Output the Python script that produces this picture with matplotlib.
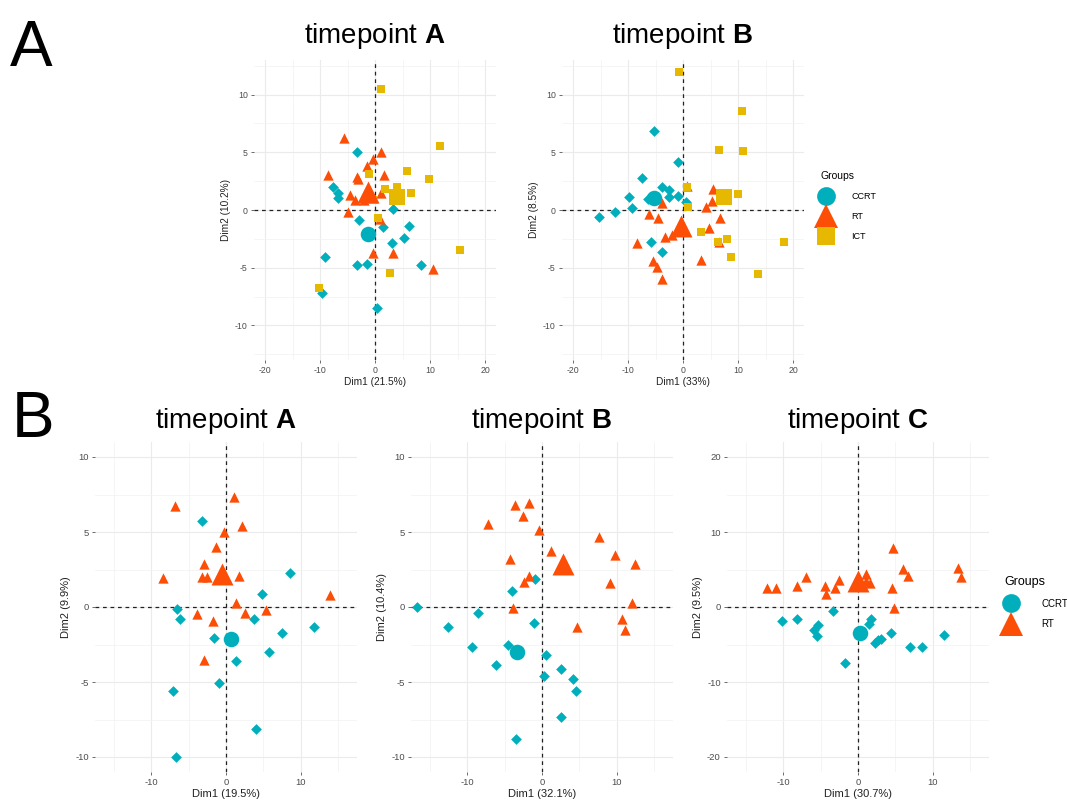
import numpy as np
import matplotlib
matplotlib.use('Agg')
import matplotlib.pyplot as plt
from matplotlib.lines import Line2D

plt.rcParams['font.family'] = ['Liberation Sans', 'DejaVu Sans']
plt.rcParams['mathtext.fontset'] = 'custom'
plt.rcParams['mathtext.rm'] = 'Liberation Sans'
plt.rcParams['mathtext.bf'] = 'Liberation Sans:bold'
plt.rcParams['axes.unicode_minus'] = False

# colours of the three groups
colCCRT = '#00AFBB'
colRT = '#FC4E07'
colICT = '#E7B800'

groupNames = ['CCRT', 'RT', 'ICT']

# ---- panel A, timepoint A ----
a1CcrtX = [-3.35, -7.6, -6.7, -6.7, 3.2, -2.9, 1.5, 6.1, 5.2, 3.0, -9.1, -3.35, -1.5, 8.4, -9.6, 0.3]
a1CcrtY = [5.06, 2.0, 1.45, 1.0, 0.05, -0.87, -1.45, -1.4, -2.4, -2.9, -4.1, -4.77, -4.7, -4.77, -7.2, -8.5]
a1RtX = [-5.7, 1.0, -0.4, -1.4, -8.5, -3.35, -3.05, 1.65, -4.6, -3.7, -2.0, -0.3, 1.1, -5.0, 0.9, -0.3, 3.2, 10.5]
a1RtY = [6.2, 5.05, 4.4, 3.85, 3.0, 2.9, 2.7, 3.0, 1.3, 0.87, 0.87, 1.0, 1.5, -0.14, -0.8, -3.7, -3.7, -5.1]
a1IctX = [11.8, 1.1, -1.1, 5.9, 9.9, 6.6, 1.8, 4.0, -0.4, 0.5, 15.4, 2.7, -10.1]
a1IctY = [5.55, 10.5, 3.1, 3.4, 2.7, 1.45, 1.8, 1.97, 0.87, -0.72, -3.5, -5.5, -6.8]
a1CentX = [-1.35, -1.2, 4.0]
a1CentY = [-2.1, 1.6, 1.16]

# ---- panel A, timepoint B ----
a2CcrtX = [-5.3, -1.0, -7.4, -3.9, -2.5, -2.5, -1.0, -9.9, -9.2, -12.3, -15.3, -6.4, 0.6, -5.9, -3.8]
a2CcrtY = [6.83, 4.18, 2.74, 2.0, 1.73, 1.15, 1.24, 1.15, 0.14, -0.14, -0.58, 0.92, 0.72, -2.8, -3.66]
a2RtX = [0.8, 5.45, 5.3, 4.2, -3.8, -6.1, -4.5, 6.7, 4.7, -3.3, -2.0, -8.4, 6.5, 3.3, -5.45, -4.7, -3.8]
a2RtY = [2.07, 1.79, 0.78, 0.29, 0.63, -0.37, -0.72, -0.72, -1.59, -2.3, -2.16, -2.82, -2.74, -4.32, -4.38, -4.96, -6.0]
a2IctX = [-0.7, 10.7, 6.5, 10.9, 0.8, 10.0, 0.9, 3.3, 6.4, 8.0, 18.4, 8.8, 13.6]
a2IctY = [12.0, 8.56, 5.19, 5.1, 2.0, 1.35, 0.29, -1.87, -2.8, -2.54, -2.74, -4.03, -5.56]
a2CentX = [-5.3, -0.3, 7.45]
a2CentY = [1.07, -1.35, 1.15]

# ---- panel B, timepoint A ----
b1CcrtX = [-3.2, 8.5, 4.8, -6.55, -6.1, 3.8, -1.65, 7.5, 11.8, 5.7, 1.34, -1.0, -7.1, 4.05, -6.7]
b1CcrtY = [5.71, 2.28, 0.89, -0.16, -0.78, -0.82, -2.04, -1.7, -1.33, -2.99, -3.63, -5.07, -5.58, -8.13, -10.0]
b1RtX = [-6.86, 1.1, 2.1, -0.3, -1.3, -2.9, -8.46, -3.2, -2.5, 1.7, 13.9, 1.4, 5.3, 2.6, -3.9, -1.74, -2.9]
b1RtY = [6.71, 7.33, 5.38, 4.98, 3.99, 2.88, 1.95, 1.99, 1.99, 2.06, 0.78, 0.29, -0.2, -0.38, -0.49, -0.93, -3.5]
b1CentX = [0.67, -0.5]
b1CentY = [-2.15, 2.17]

# ---- panel B, timepoint B ----
b2CcrtX = [-1.0, -4.0, -16.7, -8.5, -12.5, -1.1, -9.4, -4.5, -6.2, 0.54, 2.6, 0.3, 4.2, 4.6, 2.6, -3.46]
b2CcrtY = [1.84, 1.06, 0.02, -0.38, -1.31, -1.09, -2.66, -2.55, -3.85, -3.21, -4.1, -4.63, -4.81, -5.58, -7.35, -8.79]
b2RtX = [-3.6, -1.7, -2.56, -7.2, -0.45, 1.2, -4.27, 7.64, 9.8, 12.45, 9.08, -1.8, -2.34, -3.9, 12.0, 10.65, 11.1, 4.7]
b2RtY = [6.78, 6.93, 6.09, 5.56, 5.12, 3.72, 3.23, 4.67, 3.46, 2.88, 1.57, 2.04, 1.66, -0.04, 0.24, -0.82, -1.55, -1.33]
b2CentX = [-3.3, 2.8]
b2CentY = [-2.97, 2.88]

# ---- panel B, timepoint C ----
b3CcrtX = [-3.36, -10.2, -8.2, -5.4, -5.9, -5.5, 1.8, 1.43, 4.4, 3.1, 2.24, 2.7, 6.9, 8.6, 11.5, -1.8]
b3CcrtY = [-0.53, -1.86, -1.64, -2.44, -3.06, -3.85, -1.64, -2.21, -3.41, -4.2, -4.74, -4.43, -5.3, -5.3, -3.72, -7.49]
b3RtX = [-12.2, -10.9, -8.1, -7.0, -4.4, -4.25, -3.04, -2.5, 1.07, 1.1, 1.66, 4.65, 6.04, 6.7, 4.56, 4.8, 13.4, 13.7]
b3RtY = [2.57, 2.57, 2.79, 3.99, 2.79, 1.68, 2.57, 3.59, 4.43, 3.46, 3.23, 7.88, 5.09, 4.12, 2.48, -0.09, 5.23, 3.99]
b3CentX = [0.22, 0.0]
b3CentY = [-3.5, 3.46]

W, H = 1067, 802
fig = plt.figure(figsize=(W / 100, H / 100), dpi=100)


def px_axes(left, top, right, bottom):
    # axes from pixel box
    return fig.add_axes([left / W, 1 - bottom / H, (right - left) / W, (bottom - top) / H])


def style_axes(ax, xlim, ylim, xmaj, ymaj, xmin, ymin, xlab, ylab, fs, tfs):
    ax.set_xlim(xlim)
    ax.set_ylim(ylim)
    ax.set_xticks(xmaj)
    ax.set_yticks(ymaj)
    ax.set_xticks(xmin, minor=True)
    ax.set_yticks(ymin, minor=True)
    ax.grid(True, which='major', color='#EBEBEB', linewidth=0.8)
    ax.grid(True, which='minor', color='#F2F2F2', linewidth=0.5)
    ax.set_axisbelow(True)
    for s in ax.spines.values():
        s.set_visible(False)
    ax.tick_params(which='major', length=2.5, width=0.6, color='#555555',
                   labelcolor='#4D4D4D', labelsize=tfs, pad=2)
    ax.tick_params(which='minor', length=0)
    ax.axhline(0, color='#222222', linestyle=(0, (3, 3)), linewidth=0.9, zorder=1)
    ax.axvline(0, color='#222222', linestyle=(0, (3, 3)), linewidth=0.9, zorder=1)
    ax.set_xlabel(xlab, fontsize=fs, labelpad=1, color='#222222')
    ax.set_ylabel(ylab, fontsize=fs, labelpad=3, color='#222222')


def draw_points(ax, groups, centX, centY):
    marks = {'CCRT': ('D', colCCRT, 30, 125), 'RT': ('^', colRT, 55, 250), 'ICT': ('s', colICT, 36, 135)}
    for name, gx, gy in groups:
        m, c, s, _ = marks[name]
        ax.scatter(gx, gy, marker=m, s=s, color=c, linewidths=0, zorder=3)
    for i, (name, gx, gy) in enumerate(groups):
        m, c, _, big = marks[name]
        if m == 'D':
            m = 'o'
        ax.scatter([centX[i]], [centY[i]], marker=m, s=big, color=c, linewidths=0, zorder=4)


def title(ax, letter, pad):
    ax.set_title(r'timepoint $\mathbf{' + letter + '}$', fontsize=20, pad=pad)


# panel A
axA1 = px_axes(254, 60, 496, 360)
style_axes(axA1, (-22, 22), (-13, 13), [-20, -10, 0, 10, 20], [-10, -5, 0, 5, 10],
           [-15, -5, 5, 15], [-12.5, -7.5, -2.5, 2.5, 7.5, 12.5], 'Dim1 (21.5%)', 'Dim2 (10.2%)', 7.3, 6.3)
draw_points(axA1, [('CCRT', a1CcrtX, a1CcrtY), ('RT', a1RtX, a1RtY), ('ICT', a1IctX, a1IctY)], a1CentX, a1CentY)
title(axA1, 'A', 12)

axA2 = px_axes(562, 60, 804, 360)
style_axes(axA2, (-22, 22), (-13, 13), [-20, -10, 0, 10, 20], [-10, -5, 0, 5, 10],
           [-15, -5, 5, 15], [-12.5, -7.5, -2.5, 2.5, 7.5, 12.5], 'Dim1 (33%)', 'Dim2 (8.5%)', 7.3, 6.3)
draw_points(axA2, [('CCRT', a2CcrtX, a2CcrtY), ('RT', a2RtX, a2RtY), ('ICT', a2IctX, a2IctY)], a2CentX, a2CentY)
title(axA2, 'B', 12)

# panel B
axB1 = px_axes(95, 442, 357, 772)
style_axes(axB1, (-17.5, 17.5), (-11, 11), [-10, 0, 10], [-10, -5, 0, 5, 10],
           [-15, -5, 5, 15], [-7.5, -2.5, 2.5, 7.5], 'Dim1 (19.5%)', 'Dim2 (9.9%)', 8, 6.8)
draw_points(axB1, [('CCRT', b1CcrtX, b1CcrtY), ('RT', b1RtX, b1RtY)], b1CentX, b1CentY)
title(axB1, 'A', 10)

axB2 = px_axes(411, 442, 673, 772)
style_axes(axB2, (-17.5, 17.5), (-11, 11), [-10, 0, 10], [-10, -5, 0, 5, 10],
           [-15, -5, 5, 15], [-7.5, -2.5, 2.5, 7.5], 'Dim1 (32.1%)', 'Dim2 (10.4%)', 8, 6.8)
draw_points(axB2, [('CCRT', b2CcrtX, b2CcrtY), ('RT', b2RtX, b2RtY)], b2CentX, b2CentY)
title(axB2, 'B', 10)

axB3 = px_axes(727, 442, 989, 772)
style_axes(axB3, (-17.5, 17.5), (-22, 22), [-10, 0, 10], [-20, -10, 0, 10, 20],
           [-15, -5, 5, 15], [-15, -5, 5, 15], 'Dim1 (30.7%)', 'Dim2 (9.5%)', 8, 6.8)
draw_points(axB3, [('CCRT', b3CcrtX, b3CcrtY), ('RT', b3RtX, b3RtY)], b3CentX, b3CentY)
title(axB3, 'C', 10)

# legends
def legend_handles(names):
    sty = {'CCRT': ('o', colCCRT, 13.5), 'RT': ('^', colRT, 17), 'ICT': ('s', colICT, 12.5)}
    return [Line2D([], [], linestyle='none', marker=sty[n][0], color=sty[n][1],
                   markersize=sty[n][2], markeredgewidth=0) for n in names]


legA = fig.legend(legend_handles(groupNames), groupNames, loc='upper left',
                  bbox_to_anchor=(814 / W, 1 - 165 / H), frameon=False, title='Groups',
                  fontsize=6.5, title_fontsize=7.5, labelspacing=1.2, handletextpad=2.2,
                  handlelength=1.2, alignment='left', borderpad=0.2)
legB = fig.legend(legend_handles(groupNames[:2]), groupNames[:2], loc='upper left',
                  bbox_to_anchor=(998 / W, 1 - 569 / H), frameon=False, title='Groups',
                  fontsize=7, title_fontsize=9, labelspacing=1.1, handletextpad=2.6,
                  handlelength=1.2, alignment='left', borderpad=0.2)

# panel letters
fig.text(10 / W, 1 - 66 / H, 'A', fontsize=46, ha='left', va='baseline')
fig.text(12 / W, 1 - 437 / H, 'B', fontsize=46, ha='left', va='baseline')

fig.savefig('out.png', dpi=100)
